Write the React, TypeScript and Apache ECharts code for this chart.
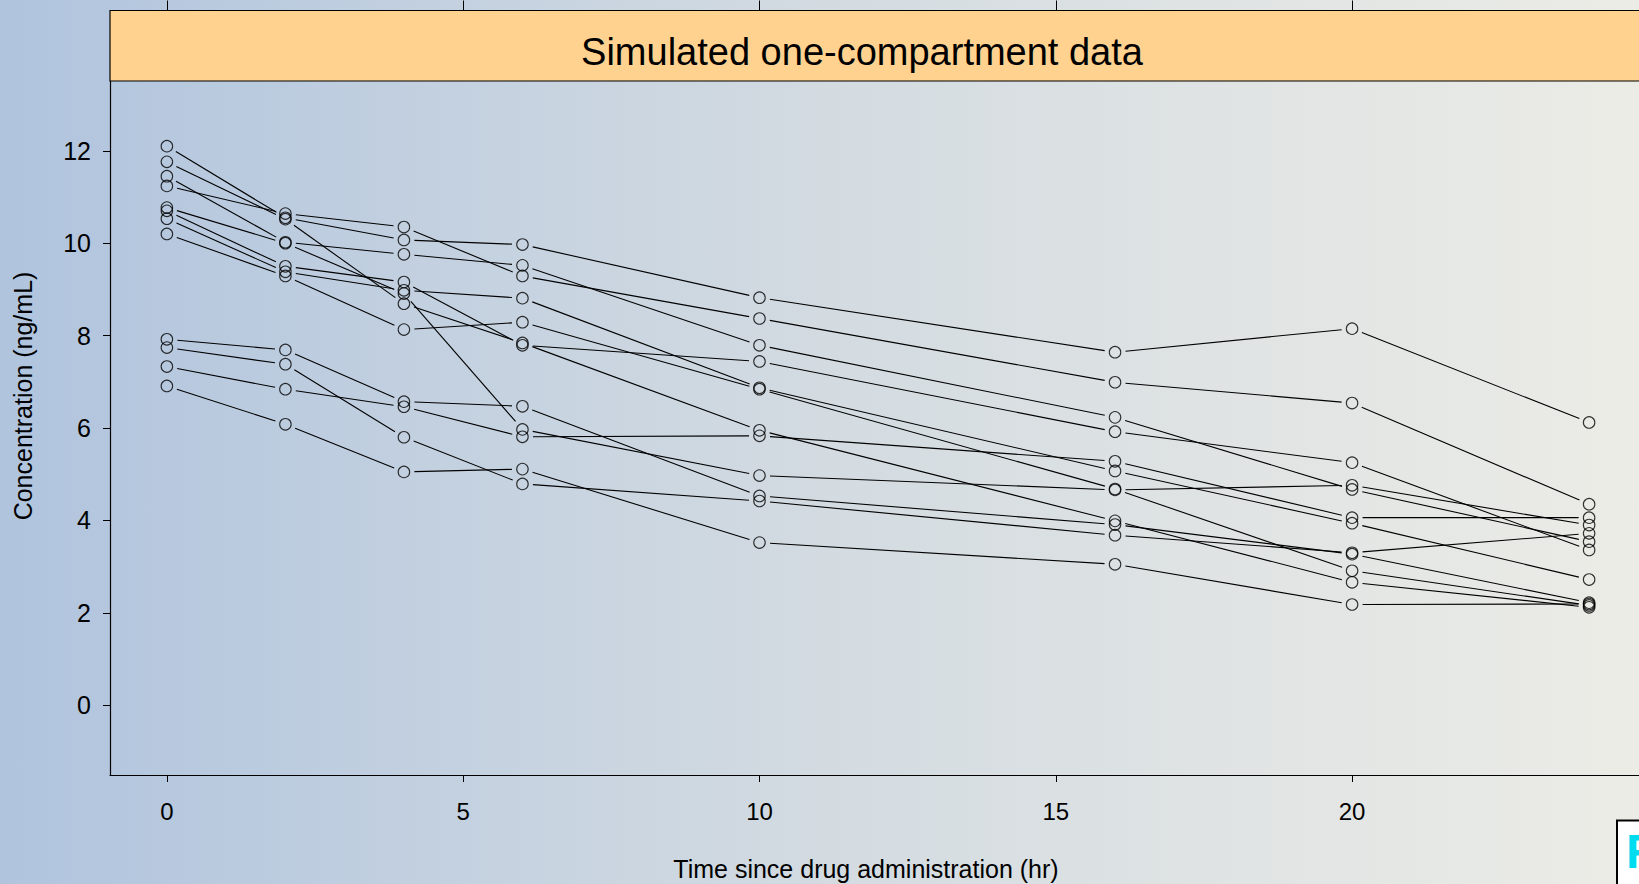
import React, { useEffect, useRef } from "react";
import * as echarts from "echarts";

// Sampling times (hr)
const times = [0, 2, 4, 6, 10, 16, 20, 24];

// Concentration profiles (ng/mL), one array per simulated subject
const subject01 = [12.1, 10.55, 10.07, 9.97, 8.82, 7.64, 8.15, 6.12];
const subject02 = [11.76, 10.52, 8.69, 7.84, 5.95, 3.99, 2.66, 2.12];
const subject03 = [11.45, 10.02, 9.76, 9.52, 7.79, 6.23, 4.67, 3.54];
const subject04 = [11.24, 10.64, 10.35, 9.29, 8.37, 6.99, 6.54, 4.35];
const subject05 = [10.77, 10.0, 8.91, 5.97, 4.97, 4.66, 4.76, 3.9];
const subject06 = [10.7, 9.5, 9.16, 7.79, 7.44, 5.92, 5.25, 3.36];
const subject07 = [10.53, 9.38, 8.98, 8.81, 6.87, 5.07, 3.94, 2.72];
const subject08 = [10.2, 9.29, 8.13, 8.29, 6.84, 4.68, 2.91, 2.16];
const subject09 = [7.92, 7.69, 6.57, 6.47, 4.53, 3.91, 3.27, 2.22];
const subject10 = [7.74, 7.38, 5.8, 4.79, 4.42, 3.68, 3.3, 3.72];
const subject11 = [7.33, 6.84, 6.46, 5.81, 5.83, 5.28, 4.06, 4.06];
const subject12 = [6.91, 6.08, 5.05, 5.11, 3.52, 3.05, 2.18, 2.19];

const subjects = [
  subject01, subject02, subject03, subject04, subject05, subject06,
  subject07, subject08, subject09, subject10, subject11, subject12,
];

const xTicks = [0, 5, 10, 15, 20];
const yTicks = [0, 2, 4, 6, 8, 10, 12];

const stripTitle = "Simulated one-compartment data";
const xTitle = "Time since drug administration (hr)";
const yTitle = "Concentration (ng/mL)";

const FONT = "'Liberation Sans', Arial, Helvetica, sans-serif";

export default function App() {
  const ref = useRef<HTMLDivElement>(null);

  useEffect(() => {
    if (!ref.current) return;
    const chart = echarts.init(ref.current, null, { renderer: "svg" });

    const points: number[][] = [];
    const segments: number[][] = [];
    subjects.forEach((conc) => {
      conc.forEach((c, i) => {
        points.push([times[i], c]);
        if (i > 0) segments.push([times[i - 1], conc[i - 1], times[i], c]);
      });
    });

    // lines stop short of each symbol, as in a "both" plot
    const gap = 10.5;

    chart.setOption({
      animation: false,
      backgroundColor: "transparent",
      grid: { left: 110, top: 81, right: 54, bottom: 109 },
      xAxis: [
        {
          type: "value",
          min: -0.96,
          max: 24.96,
          position: "bottom",
          axisLine: { show: true, onZero: false, lineStyle: { color: "#000", width: 1.2 } },
          axisTick: { show: true, customValues: xTicks, length: 7, lineStyle: { color: "#000" } },
          axisLabel: {
            customValues: xTicks,
            fontSize: 24,
            color: "#000",
            margin: 24,
            fontFamily: FONT,
          },
          splitLine: { show: false },
        },
        {
          type: "value",
          min: -0.96,
          max: 24.96,
          position: "top",
          offset: 70.5,
          axisLine: { show: false, onZero: false },
          axisTick: { show: true, customValues: xTicks, length: 10, lineStyle: { color: "#000" } },
          axisLabel: { show: false },
          splitLine: { show: false },
        },
      ],
      yAxis: {
        type: "value",
        min: -1.51,
        max: 13.51,
        axisLine: { show: true, onZero: false, lineStyle: { color: "#000", width: 1.2 } },
        axisTick: { show: true, customValues: yTicks, length: 7, lineStyle: { color: "#000" } },
        axisLabel: {
          customValues: yTicks,
          fontSize: 25,
          color: "#000",
          margin: 19,
          padding: [5, 0, 0, 0],
          fontFamily: FONT,
        },
        splitLine: { show: false },
      },
      graphic: [
        {
          type: "rect",
          shape: { x: 110, y: 10.5, width: 1560, height: 70.5 },
          style: { fill: "#ffd28f", stroke: "#000", lineWidth: 1.2 },
          z: 10,
        },
        {
          type: "text",
          x: 862,
          y: 52,
          style: {
            text: stripTitle,
            fontSize: 38,
            fontFamily: FONT,
            fill: "#000",
            align: "center",
            verticalAlign: "middle",
          },
          z: 11,
        },
        {
          type: "text",
          x: 866,
          y: 869,
          style: {
            text: xTitle,
            fontSize: 25,
            fontFamily: FONT,
            fill: "#000",
            align: "center",
            verticalAlign: "middle",
          },
        },
        {
          type: "text",
          x: 23,
          y: 396,
          rotation: Math.PI / 2,
          style: {
            text: yTitle,
            fontSize: 25,
            fontFamily: FONT,
            fill: "#000",
            align: "center",
            verticalAlign: "middle",
          },
        },
        {
          type: "rect",
          shape: { x: 1617, y: 820.5, width: 80, height: 90 },
          style: { fill: "#ffffff", stroke: "#000", lineWidth: 2 },
        },
        {
          type: "text",
          x: 1626,
          y: 827,
          style: {
            text: "R",
            fontSize: 48,
            fontWeight: "bold",
            fontFamily: FONT,
            fill: "#00dcef",
            align: "left",
            verticalAlign: "top",
          },
        },
      ],
      series: [
        {
          type: "custom",
          xAxisIndex: 0,
          yAxisIndex: 0,
          encode: { x: [0, 2], y: [1, 3] },
          data: segments,
          renderItem: (_params: any, api: any) => {
            const p1 = api.coord([api.value(0), api.value(1)]);
            const p2 = api.coord([api.value(2), api.value(3)]);
            const dx = p2[0] - p1[0];
            const dy = p2[1] - p1[1];
            const len = Math.hypot(dx, dy);
            if (len <= 2 * gap) return { type: "group", children: [] };
            const ux = dx / len;
            const uy = dy / len;
            return {
              type: "line",
              shape: {
                x1: p1[0] + ux * gap,
                y1: p1[1] + uy * gap,
                x2: p2[0] - ux * gap,
                y2: p2[1] - uy * gap,
              },
              style: { stroke: "#000", lineWidth: 1.1 },
            };
          },
          silent: true,
        },
        {
          type: "scatter",
          xAxisIndex: 0,
          yAxisIndex: 0,
          data: points,
          symbol: "circle",
          symbolSize: 11.5,
          itemStyle: { color: "rgba(0,0,0,0)", borderColor: "#000", borderWidth: 1.1 },
          silent: true,
        },
      ],
    });

    return () => chart.dispose();
  }, []);

  return (
    <div
      style={{
        position: "absolute",
        left: 0,
        top: 0,
        width: 1639,
        height: 884,
        overflow: "hidden",
        background: "linear-gradient(to right, #b0c4de 0%, #d3dbe1 50%, #ecece6 100%)",
      }}
    >
      <div ref={ref} style={{ width: 1700, height: 884 }} />
    </div>
  );
}
